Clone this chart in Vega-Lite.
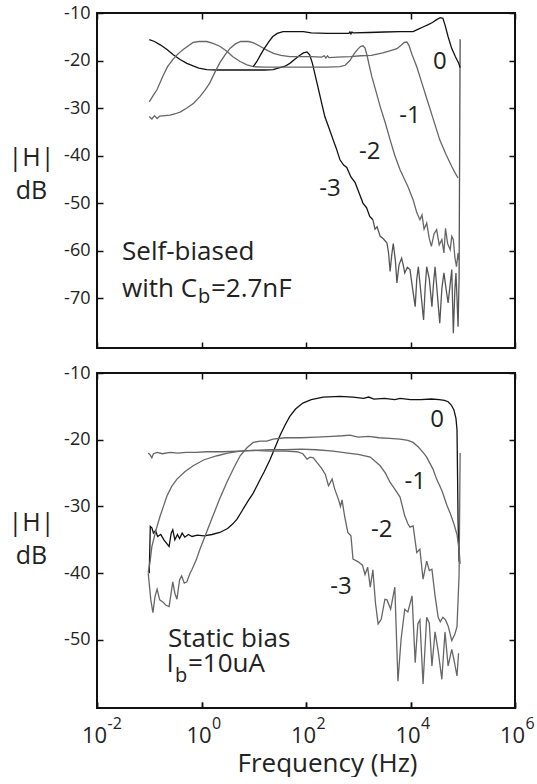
{
  "$schema": "https://vega.github.io/schema/vega-lite/v6.json",
  "autosize": {"type": "pad"},
  "padding": {"left": 7, "top": 3, "right": 0, "bottom": 0},
  "spacing": 25,
  "bounds": "flush",
  "config": {
    "font": "Open Sans",
    "view": {"stroke": "#111", "strokeWidth": 2},
    "axis": {"domain": false, "grid": false, "tickColor": "#111", "tickWidth": 1.5, "tickSize": -6, "labelColor": "#222", "titleColor": "#222", "titleFontWeight": "normal", "labelFont": "Open Sans", "titleFont": "Open Sans", "labelFlush": false, "labelOverlap": false, "labelBound": false},
    "text": {"color": "#222", "font": "Open Sans"}
  },
  "datasets": {
    "curves": [
      {"panel":"top","curve":"-3","logf":-1.0,"dB":-15.6},{"panel":"top","curve":"-3","logf":-0.9,"dB":-16.0},{"panel":"top","curve":"-3","logf":-0.79,"dB":-16.7},{"panel":"top","curve":"-3","logf":-0.66,"dB":-17.7},{"panel":"top","curve":"-3","logf":-0.54,"dB":-18.8},{"panel":"top","curve":"-3","logf":-0.41,"dB":-19.8},{"panel":"top","curve":"-3","logf":-0.28,"dB":-20.6},{"panel":"top","curve":"-3","logf":-0.15,"dB":-21.2},{"panel":"top","curve":"-3","logf":-0.05,"dB":-21.6},{"panel":"top","curve":"-3","logf":0.1,"dB":-21.9},{"panel":"top","curve":"-3","logf":0.3,"dB":-22.0},{"panel":"top","curve":"-3","logf":0.6,"dB":-22.0},{"panel":"top","curve":"-3","logf":0.9,"dB":-22.0},{"panel":"top","curve":"-3","logf":1.2,"dB":-22.0},{"panel":"top","curve":"-3","logf":1.37,"dB":-21.9},{"panel":"top","curve":"-3","logf":1.5,"dB":-21.5},{"panel":"top","curve":"-3","logf":1.6,"dB":-21.2},{"panel":"top","curve":"-3","logf":1.69,"dB":-20.6},{"panel":"top","curve":"-3","logf":1.78,"dB":-19.8},{"panel":"top","curve":"-3","logf":1.87,"dB":-19.0},{"panel":"top","curve":"-3","logf":1.95,"dB":-18.4},{"panel":"top","curve":"-3","logf":2.02,"dB":-18.2},{"panel":"top","curve":"-3","logf":2.07,"dB":-18.8},{"panel":"top","curve":"-3","logf":2.12,"dB":-20.5},{"panel":"top","curve":"-3","logf":2.21,"dB":-24.7},{"panel":"top","curve":"-3","logf":2.29,"dB":-28.5},{"panel":"top","curve":"-3","logf":2.36,"dB":-31.8},{"panel":"top","curve":"-3","logf":2.45,"dB":-34.5},{"panel":"top","curve":"-3","logf":2.52,"dB":-36.7},{"panel":"top","curve":"-3","logf":2.58,"dB":-38.5},{"panel":"top","curve":"-3","logf":2.65,"dB":-40.9},{"panel":"top","curve":"-3","logf":2.72,"dB":-42.0},{"panel":"top","curve":"-3","logf":2.78,"dB":-42.5},{"panel":"top","curve":"-3","logf":2.86,"dB":-44.5},{"panel":"top","curve":"-3","logf":2.94,"dB":-45.7},{"panel":"top","curve":"-3","logf":3.02,"dB":-48.0},{"panel":"top","curve":"-3","logf":3.09,"dB":-50.0},{"panel":"top","curve":"-3","logf":3.16,"dB":-51.0},{"panel":"top","curve":"-3","logf":3.22,"dB":-52.8},{"panel":"top","curve":"-3","logf":3.28,"dB":-53.5},
      {"panel":"top","curve":"-3 floor","logf":3.28,"dB":-53.5},{"panel":"top","curve":"-3 floor","logf":3.32,"dB":-55.5},{"panel":"top","curve":"-3 floor","logf":3.36,"dB":-55.0},{"panel":"top","curve":"-3 floor","logf":3.42,"dB":-57.0},{"panel":"top","curve":"-3 floor","logf":3.48,"dB":-57.5},{"panel":"top","curve":"-3 floor","logf":3.55,"dB":-58.4},{"panel":"top","curve":"-3 floor","logf":3.58,"dB":-60.5},{"panel":"top","curve":"-3 floor","logf":3.61,"dB":-64.4},{"panel":"top","curve":"-3 floor","logf":3.64,"dB":-61.0},{"panel":"top","curve":"-3 floor","logf":3.67,"dB":-58.5},{"panel":"top","curve":"-3 floor","logf":3.71,"dB":-62.0},{"panel":"top","curve":"-3 floor","logf":3.74,"dB":-66.8},{"panel":"top","curve":"-3 floor","logf":3.78,"dB":-63.0},{"panel":"top","curve":"-3 floor","logf":3.83,"dB":-61.6},{"panel":"top","curve":"-3 floor","logf":3.86,"dB":-63.0},{"panel":"top","curve":"-3 floor","logf":3.89,"dB":-64.7},{"panel":"top","curve":"-3 floor","logf":3.94,"dB":-63.5},{"panel":"top","curve":"-3 floor","logf":3.99,"dB":-64.0},{"panel":"top","curve":"-3 floor","logf":4.04,"dB":-68.0},{"panel":"top","curve":"-3 floor","logf":4.09,"dB":-71.8},{"panel":"top","curve":"-3 floor","logf":4.12,"dB":-66.0},{"panel":"top","curve":"-3 floor","logf":4.15,"dB":-63.4},{"panel":"top","curve":"-3 floor","logf":4.2,"dB":-69.0},{"panel":"top","curve":"-3 floor","logf":4.25,"dB":-74.6},{"panel":"top","curve":"-3 floor","logf":4.28,"dB":-68.0},{"panel":"top","curve":"-3 floor","logf":4.31,"dB":-63.4},{"panel":"top","curve":"-3 floor","logf":4.36,"dB":-66.0},{"panel":"top","curve":"-3 floor","logf":4.41,"dB":-71.8},{"panel":"top","curve":"-3 floor","logf":4.44,"dB":-67.0},{"panel":"top","curve":"-3 floor","logf":4.47,"dB":-63.4},{"panel":"top","curve":"-3 floor","logf":4.52,"dB":-70.0},{"panel":"top","curve":"-3 floor","logf":4.56,"dB":-75.3},{"panel":"top","curve":"-3 floor","logf":4.6,"dB":-68.0},{"panel":"top","curve":"-3 floor","logf":4.64,"dB":-64.7},{"panel":"top","curve":"-3 floor","logf":4.68,"dB":-68.0},{"panel":"top","curve":"-3 floor","logf":4.72,"dB":-71.0},{"panel":"top","curve":"-3 floor","logf":4.76,"dB":-67.0},{"panel":"top","curve":"-3 floor","logf":4.79,"dB":-64.0},{"panel":"top","curve":"-3 floor","logf":4.82,"dB":-77.4},{"panel":"top","curve":"-3 floor","logf":4.85,"dB":-68.0},{"panel":"top","curve":"-3 floor","logf":4.87,"dB":-64.7},{"panel":"top","curve":"-3 floor","logf":4.89,"dB":-70.0},{"panel":"top","curve":"-3 floor","logf":4.91,"dB":-76.0},{"panel":"top","curve":"-3 floor","logf":4.93,"dB":-66.0},{"panel":"top","curve":"-3 floor","logf":4.95,"dB":-15.5},
      {"panel":"top","curve":"-2","logf":-1.0,"dB":-28.7},{"panel":"top","curve":"-2","logf":-0.92,"dB":-27.3},{"panel":"top","curve":"-2","logf":-0.85,"dB":-26.1},{"panel":"top","curve":"-2","logf":-0.74,"dB":-23.3},{"panel":"top","curve":"-2","logf":-0.65,"dB":-21.3},{"panel":"top","curve":"-2","logf":-0.55,"dB":-19.8},{"panel":"top","curve":"-2","logf":-0.45,"dB":-18.6},{"panel":"top","curve":"-2","logf":-0.35,"dB":-17.7},{"panel":"top","curve":"-2","logf":-0.25,"dB":-16.9},{"panel":"top","curve":"-2","logf":-0.16,"dB":-16.2},{"panel":"top","curve":"-2","logf":-0.05,"dB":-16.0},{"panel":"top","curve":"-2","logf":0.1,"dB":-16.0},{"panel":"top","curve":"-2","logf":0.22,"dB":-16.4},{"panel":"top","curve":"-2","logf":0.35,"dB":-17.0},{"panel":"top","curve":"-2","logf":0.48,"dB":-18.0},{"panel":"top","curve":"-2","logf":0.6,"dB":-19.2},{"panel":"top","curve":"-2","logf":0.74,"dB":-20.2},{"panel":"top","curve":"-2","logf":0.87,"dB":-20.9},{"panel":"top","curve":"-2","logf":0.99,"dB":-21.3},{"panel":"top","curve":"-2","logf":1.2,"dB":-21.4},{"panel":"top","curve":"-2","logf":1.5,"dB":-21.4},{"panel":"top","curve":"-2","logf":1.8,"dB":-21.4},{"panel":"top","curve":"-2","logf":2.1,"dB":-21.4},{"panel":"top","curve":"-2","logf":2.4,"dB":-21.4},{"panel":"top","curve":"-2","logf":2.65,"dB":-21.3},{"panel":"top","curve":"-2","logf":2.75,"dB":-21.0},{"panel":"top","curve":"-2","logf":2.84,"dB":-20.0},{"panel":"top","curve":"-2","logf":2.92,"dB":-18.6},{"panel":"top","curve":"-2","logf":3.0,"dB":-17.5},{"panel":"top","curve":"-2","logf":3.05,"dB":-17.0},{"panel":"top","curve":"-2","logf":3.09,"dB":-16.9},{"panel":"top","curve":"-2","logf":3.13,"dB":-17.4},{"panel":"top","curve":"-2","logf":3.17,"dB":-19.0},{"panel":"top","curve":"-2","logf":3.21,"dB":-21.0},{"panel":"top","curve":"-2","logf":3.26,"dB":-23.4},{"panel":"top","curve":"-2","logf":3.34,"dB":-26.5},{"panel":"top","curve":"-2","logf":3.42,"dB":-29.7},{"panel":"top","curve":"-2","logf":3.52,"dB":-33.2},{"panel":"top","curve":"-2","logf":3.61,"dB":-36.7},{"panel":"top","curve":"-2","logf":3.7,"dB":-40.0},{"panel":"top","curve":"-2","logf":3.8,"dB":-43.0},{"panel":"top","curve":"-2","logf":3.86,"dB":-44.4},{"panel":"top","curve":"-2","logf":3.95,"dB":-46.5},{"panel":"top","curve":"-2","logf":4.05,"dB":-49.3},{"panel":"top","curve":"-2","logf":4.12,"dB":-52.0},{"panel":"top","curve":"-2","logf":4.18,"dB":-53.5},{"panel":"top","curve":"-2","logf":4.22,"dB":-52.5},{"panel":"top","curve":"-2","logf":4.26,"dB":-55.5},{"panel":"top","curve":"-2","logf":4.31,"dB":-54.2},{"panel":"top","curve":"-2","logf":4.36,"dB":-57.5},{"panel":"top","curve":"-2","logf":4.4,"dB":-59.1},{"panel":"top","curve":"-2","logf":4.45,"dB":-56.5},{"panel":"top","curve":"-2","logf":4.5,"dB":-55.6},{"panel":"top","curve":"-2","logf":4.55,"dB":-58.8},{"panel":"top","curve":"-2","logf":4.6,"dB":-57.7},{"panel":"top","curve":"-2","logf":4.64,"dB":-60.5},{"panel":"top","curve":"-2","logf":4.67,"dB":-55.3},{"panel":"top","curve":"-2","logf":4.71,"dB":-58.5},{"panel":"top","curve":"-2","logf":4.76,"dB":-59.8},{"panel":"top","curve":"-2","logf":4.79,"dB":-57.0},{"panel":"top","curve":"-2","logf":4.82,"dB":-57.7},{"panel":"top","curve":"-2","logf":4.85,"dB":-61.5},{"panel":"top","curve":"-2","logf":4.88,"dB":-63.4},{"panel":"top","curve":"-2","logf":4.91,"dB":-60.5},{"panel":"top","curve":"-2","logf":4.93,"dB":-62.0},
      {"panel":"top","curve":"-1","logf":-1.0,"dB":-31.8},{"panel":"top","curve":"-1","logf":-0.95,"dB":-32.3},{"panel":"top","curve":"-1","logf":-0.9,"dB":-31.6},{"panel":"top","curve":"-1","logf":-0.85,"dB":-32.2},{"panel":"top","curve":"-1","logf":-0.8,"dB":-31.7},{"panel":"top","curve":"-1","logf":-0.7,"dB":-31.6},{"panel":"top","curve":"-1","logf":-0.6,"dB":-31.5},{"panel":"top","curve":"-1","logf":-0.5,"dB":-31.2},{"panel":"top","curve":"-1","logf":-0.4,"dB":-30.8},{"panel":"top","curve":"-1","logf":-0.28,"dB":-30.0},{"panel":"top","curve":"-1","logf":-0.15,"dB":-29.0},{"panel":"top","curve":"-1","logf":-0.03,"dB":-27.6},{"panel":"top","curve":"-1","logf":0.07,"dB":-26.2},{"panel":"top","curve":"-1","logf":0.16,"dB":-24.7},{"panel":"top","curve":"-1","logf":0.25,"dB":-22.6},{"panel":"top","curve":"-1","logf":0.35,"dB":-20.5},{"panel":"top","curve":"-1","logf":0.45,"dB":-18.8},{"panel":"top","curve":"-1","logf":0.55,"dB":-17.4},{"panel":"top","curve":"-1","logf":0.65,"dB":-16.5},{"panel":"top","curve":"-1","logf":0.75,"dB":-16.0},{"panel":"top","curve":"-1","logf":0.9,"dB":-16.0},{"panel":"top","curve":"-1","logf":1.0,"dB":-16.3},{"panel":"top","curve":"-1","logf":1.12,"dB":-17.0},{"panel":"top","curve":"-1","logf":1.25,"dB":-17.8},{"panel":"top","curve":"-1","logf":1.38,"dB":-18.5},{"panel":"top","curve":"-1","logf":1.52,"dB":-18.9},{"panel":"top","curve":"-1","logf":1.69,"dB":-19.2},{"panel":"top","curve":"-1","logf":1.9,"dB":-19.2},{"panel":"top","curve":"-1","logf":2.1,"dB":-19.2},{"panel":"top","curve":"-1","logf":2.3,"dB":-19.3},{"panel":"top","curve":"-1","logf":2.35,"dB":-19.0},{"panel":"top","curve":"-1","logf":2.38,"dB":-19.5},{"panel":"top","curve":"-1","logf":2.41,"dB":-19.0},{"panel":"top","curve":"-1","logf":2.44,"dB":-19.4},{"panel":"top","curve":"-1","logf":2.6,"dB":-19.3},{"panel":"top","curve":"-1","logf":2.85,"dB":-19.2},{"panel":"top","curve":"-1","logf":3.05,"dB":-19.0},{"panel":"top","curve":"-1","logf":3.25,"dB":-18.9},{"panel":"top","curve":"-1","logf":3.47,"dB":-18.4},{"panel":"top","curve":"-1","logf":3.62,"dB":-17.9},{"panel":"top","curve":"-1","logf":3.74,"dB":-17.5},{"panel":"top","curve":"-1","logf":3.82,"dB":-16.8},{"panel":"top","curve":"-1","logf":3.88,"dB":-16.2},{"panel":"top","curve":"-1","logf":3.93,"dB":-16.1},{"panel":"top","curve":"-1","logf":3.97,"dB":-16.8},{"panel":"top","curve":"-1","logf":4.03,"dB":-18.8},{"panel":"top","curve":"-1","logf":4.12,"dB":-21.3},{"panel":"top","curve":"-1","logf":4.22,"dB":-24.8},{"panel":"top","curve":"-1","logf":4.32,"dB":-28.3},{"panel":"top","curve":"-1","logf":4.44,"dB":-32.5},{"panel":"top","curve":"-1","logf":4.56,"dB":-36.7},{"panel":"top","curve":"-1","logf":4.68,"dB":-39.8},{"panel":"top","curve":"-1","logf":4.79,"dB":-42.3},{"panel":"top","curve":"-1","logf":4.86,"dB":-43.8},{"panel":"top","curve":"-1","logf":4.91,"dB":-44.7},
      {"panel":"top","curve":"0","logf":0.99,"dB":-21.3},{"panel":"top","curve":"0","logf":1.06,"dB":-20.2},{"panel":"top","curve":"0","logf":1.13,"dB":-18.8},{"panel":"top","curve":"0","logf":1.2,"dB":-17.5},{"panel":"top","curve":"0","logf":1.28,"dB":-16.2},{"panel":"top","curve":"0","logf":1.36,"dB":-15.0},{"panel":"top","curve":"0","logf":1.45,"dB":-14.3},{"panel":"top","curve":"0","logf":1.56,"dB":-13.9},{"panel":"top","curve":"0","logf":1.75,"dB":-13.9},{"panel":"top","curve":"0","logf":1.95,"dB":-13.9},{"panel":"top","curve":"0","logf":2.1,"dB":-14.2},{"panel":"top","curve":"0","logf":2.4,"dB":-14.3},{"panel":"top","curve":"0","logf":2.7,"dB":-14.3},{"panel":"top","curve":"0","logf":2.82,"dB":-14.3},{"panel":"top","curve":"0","logf":2.84,"dB":-14.0},{"panel":"top","curve":"0","logf":2.86,"dB":-14.4},{"panel":"top","curve":"0","logf":2.88,"dB":-14.0},{"panel":"top","curve":"0","logf":2.9,"dB":-14.2},{"panel":"top","curve":"0","logf":3.2,"dB":-14.1},{"panel":"top","curve":"0","logf":3.5,"dB":-14.0},{"panel":"top","curve":"0","logf":3.8,"dB":-13.9},{"panel":"top","curve":"0","logf":4.05,"dB":-13.9},{"panel":"top","curve":"0","logf":4.15,"dB":-13.4},{"panel":"top","curve":"0","logf":4.25,"dB":-12.9},{"panel":"top","curve":"0","logf":4.33,"dB":-12.5},{"panel":"top","curve":"0","logf":4.42,"dB":-12.0},{"panel":"top","curve":"0","logf":4.5,"dB":-11.4},{"panel":"top","curve":"0","logf":4.57,"dB":-11.0},{"panel":"top","curve":"0","logf":4.62,"dB":-11.1},{"panel":"top","curve":"0","logf":4.66,"dB":-12.5},{"panel":"top","curve":"0","logf":4.72,"dB":-15.0},{"panel":"top","curve":"0","logf":4.79,"dB":-17.5},{"panel":"top","curve":"0","logf":4.86,"dB":-19.2},{"panel":"top","curve":"0","logf":4.92,"dB":-20.5},{"panel":"top","curve":"0","logf":4.95,"dB":-21.5},
      {"panel":"bottom","curve":"0","logf":-1.0,"dB":-40.0},{"panel":"bottom","curve":"0","logf":-0.98,"dB":-33.0},{"panel":"bottom","curve":"0","logf":-0.95,"dB":-33.2},{"panel":"bottom","curve":"0","logf":-0.92,"dB":-34.0},{"panel":"bottom","curve":"0","logf":-0.88,"dB":-33.6},{"panel":"bottom","curve":"0","logf":-0.84,"dB":-34.5},{"panel":"bottom","curve":"0","logf":-0.78,"dB":-34.2},{"panel":"bottom","curve":"0","logf":-0.72,"dB":-35.0},{"panel":"bottom","curve":"0","logf":-0.66,"dB":-35.6},{"panel":"bottom","curve":"0","logf":-0.62,"dB":-36.0},{"panel":"bottom","curve":"0","logf":-0.58,"dB":-34.0},{"panel":"bottom","curve":"0","logf":-0.55,"dB":-33.5},{"panel":"bottom","curve":"0","logf":-0.51,"dB":-35.0},{"panel":"bottom","curve":"0","logf":-0.46,"dB":-34.2},{"panel":"bottom","curve":"0","logf":-0.42,"dB":-34.8},{"panel":"bottom","curve":"0","logf":-0.37,"dB":-34.0},{"panel":"bottom","curve":"0","logf":-0.32,"dB":-34.6},{"panel":"bottom","curve":"0","logf":-0.25,"dB":-34.2},{"panel":"bottom","curve":"0","logf":-0.18,"dB":-34.5},{"panel":"bottom","curve":"0","logf":-0.08,"dB":-34.3},{"panel":"bottom","curve":"0","logf":0.05,"dB":-34.4},{"panel":"bottom","curve":"0","logf":0.2,"dB":-34.2},{"panel":"bottom","curve":"0","logf":0.35,"dB":-33.9},{"panel":"bottom","curve":"0","logf":0.5,"dB":-33.3},{"panel":"bottom","curve":"0","logf":0.6,"dB":-32.6},{"panel":"bottom","curve":"0","logf":0.68,"dB":-31.9},{"panel":"bottom","curve":"0","logf":0.78,"dB":-30.6},{"panel":"bottom","curve":"0","logf":0.88,"dB":-29.3},{"panel":"bottom","curve":"0","logf":0.99,"dB":-28.0},{"panel":"bottom","curve":"0","logf":1.1,"dB":-26.3},{"panel":"bottom","curve":"0","logf":1.2,"dB":-24.8},{"panel":"bottom","curve":"0","logf":1.31,"dB":-23.0},{"panel":"bottom","curve":"0","logf":1.4,"dB":-21.3},{"panel":"bottom","curve":"0","logf":1.5,"dB":-19.4},{"panel":"bottom","curve":"0","logf":1.6,"dB":-17.8},{"panel":"bottom","curve":"0","logf":1.69,"dB":-16.5},{"panel":"bottom","curve":"0","logf":1.8,"dB":-15.4},{"panel":"bottom","curve":"0","logf":1.94,"dB":-14.5},{"panel":"bottom","curve":"0","logf":2.1,"dB":-14.0},{"panel":"bottom","curve":"0","logf":2.33,"dB":-13.6},{"panel":"bottom","curve":"0","logf":2.65,"dB":-13.5},{"panel":"bottom","curve":"0","logf":2.9,"dB":-13.6},{"panel":"bottom","curve":"0","logf":3.1,"dB":-13.8},{"panel":"bottom","curve":"0","logf":3.2,"dB":-13.6},{"panel":"bottom","curve":"0","logf":3.3,"dB":-13.9},{"panel":"bottom","curve":"0","logf":3.5,"dB":-13.8},{"panel":"bottom","curve":"0","logf":3.7,"dB":-14.0},{"panel":"bottom","curve":"0","logf":3.8,"dB":-13.8},{"panel":"bottom","curve":"0","logf":4.0,"dB":-14.0},{"panel":"bottom","curve":"0","logf":4.2,"dB":-14.0},{"panel":"bottom","curve":"0","logf":4.4,"dB":-13.9},{"panel":"bottom","curve":"0","logf":4.55,"dB":-14.0},{"panel":"bottom","curve":"0","logf":4.65,"dB":-14.1},{"panel":"bottom","curve":"0","logf":4.72,"dB":-14.3},{"panel":"bottom","curve":"0","logf":4.78,"dB":-14.8},{"panel":"bottom","curve":"0","logf":4.83,"dB":-15.5},{"panel":"bottom","curve":"0","logf":4.87,"dB":-16.8},{"panel":"bottom","curve":"0","logf":4.89,"dB":-18.5},{"panel":"bottom","curve":"0","logf":4.9,"dB":-25.0},{"panel":"bottom","curve":"0","logf":4.91,"dB":-32.0},{"panel":"bottom","curve":"0","logf":4.93,"dB":-38.3},
      {"panel":"bottom","curve":"-1","logf":-1.02,"dB":-40.0},{"panel":"bottom","curve":"-1","logf":-0.97,"dB":-44.0},{"panel":"bottom","curve":"-1","logf":-0.93,"dB":-45.9},{"panel":"bottom","curve":"-1","logf":-0.89,"dB":-43.5},{"panel":"bottom","curve":"-1","logf":-0.85,"dB":-42.4},{"panel":"bottom","curve":"-1","logf":-0.8,"dB":-44.0},{"panel":"bottom","curve":"-1","logf":-0.74,"dB":-44.3},{"panel":"bottom","curve":"-1","logf":-0.68,"dB":-44.8},{"panel":"bottom","curve":"-1","logf":-0.62,"dB":-45.0},{"panel":"bottom","curve":"-1","logf":-0.55,"dB":-41.3},{"panel":"bottom","curve":"-1","logf":-0.51,"dB":-43.0},{"panel":"bottom","curve":"-1","logf":-0.47,"dB":-43.9},{"panel":"bottom","curve":"-1","logf":-0.42,"dB":-41.0},{"panel":"bottom","curve":"-1","logf":-0.38,"dB":-40.4},{"panel":"bottom","curve":"-1","logf":-0.33,"dB":-41.5},{"panel":"bottom","curve":"-1","logf":-0.28,"dB":-41.3},{"panel":"bottom","curve":"-1","logf":-0.22,"dB":-40.0},{"panel":"bottom","curve":"-1","logf":-0.18,"dB":-39.4},{"panel":"bottom","curve":"-1","logf":-0.1,"dB":-38.0},{"panel":"bottom","curve":"-1","logf":-0.03,"dB":-36.4},{"panel":"bottom","curve":"-1","logf":0.1,"dB":-33.8},{"panel":"bottom","curve":"-1","logf":0.22,"dB":-31.4},{"panel":"bottom","curve":"-1","logf":0.35,"dB":-28.8},{"panel":"bottom","curve":"-1","logf":0.49,"dB":-26.3},{"panel":"bottom","curve":"-1","logf":0.62,"dB":-24.2},{"panel":"bottom","curve":"-1","logf":0.74,"dB":-22.4},{"panel":"bottom","curve":"-1","logf":0.87,"dB":-21.2},{"panel":"bottom","curve":"-1","logf":0.99,"dB":-20.4},{"panel":"bottom","curve":"-1","logf":1.12,"dB":-20.2},{"panel":"bottom","curve":"-1","logf":1.25,"dB":-20.2},{"panel":"bottom","curve":"-1","logf":1.37,"dB":-19.9},{"panel":"bottom","curve":"-1","logf":1.6,"dB":-19.7},{"panel":"bottom","curve":"-1","logf":1.9,"dB":-19.7},{"panel":"bottom","curve":"-1","logf":2.2,"dB":-19.6},{"panel":"bottom","curve":"-1","logf":2.5,"dB":-19.5},{"panel":"bottom","curve":"-1","logf":2.7,"dB":-19.4},{"panel":"bottom","curve":"-1","logf":2.84,"dB":-19.3},{"panel":"bottom","curve":"-1","logf":3.0,"dB":-19.6},{"panel":"bottom","curve":"-1","logf":3.2,"dB":-19.5},{"panel":"bottom","curve":"-1","logf":3.4,"dB":-19.7},{"panel":"bottom","curve":"-1","logf":3.6,"dB":-19.8},{"panel":"bottom","curve":"-1","logf":3.8,"dB":-19.9},{"panel":"bottom","curve":"-1","logf":3.95,"dB":-20.1},{"panel":"bottom","curve":"-1","logf":4.05,"dB":-20.4},{"panel":"bottom","curve":"-1","logf":4.15,"dB":-21.1},{"panel":"bottom","curve":"-1","logf":4.24,"dB":-21.9},{"panel":"bottom","curve":"-1","logf":4.31,"dB":-22.6},{"panel":"bottom","curve":"-1","logf":4.43,"dB":-24.4},{"panel":"bottom","curve":"-1","logf":4.5,"dB":-25.9},{"panel":"bottom","curve":"-1","logf":4.6,"dB":-27.6},{"panel":"bottom","curve":"-1","logf":4.7,"dB":-29.9},{"panel":"bottom","curve":"-1","logf":4.76,"dB":-31.0},{"panel":"bottom","curve":"-1","logf":4.83,"dB":-32.6},{"panel":"bottom","curve":"-1","logf":4.89,"dB":-34.2},{"panel":"bottom","curve":"-1","logf":4.93,"dB":-36.5},{"panel":"bottom","curve":"-1","logf":4.95,"dB":-38.6},
      {"panel":"bottom","curve":"-2","logf":-1.02,"dB":-39.9},{"panel":"bottom","curve":"-2","logf":-0.98,"dB":-38.0},{"panel":"bottom","curve":"-2","logf":-0.95,"dB":-36.0},{"panel":"bottom","curve":"-2","logf":-0.87,"dB":-33.5},{"panel":"bottom","curve":"-2","logf":-0.79,"dB":-31.4},{"panel":"bottom","curve":"-2","logf":-0.72,"dB":-29.8},{"panel":"bottom","curve":"-2","logf":-0.66,"dB":-28.4},{"panel":"bottom","curve":"-2","logf":-0.57,"dB":-27.0},{"panel":"bottom","curve":"-2","logf":-0.47,"dB":-25.9},{"panel":"bottom","curve":"-2","logf":-0.32,"dB":-24.8},{"panel":"bottom","curve":"-2","logf":-0.16,"dB":-23.9},{"panel":"bottom","curve":"-2","logf":0.05,"dB":-23.0},{"panel":"bottom","curve":"-2","logf":0.3,"dB":-22.4},{"panel":"bottom","curve":"-2","logf":0.5,"dB":-22.0},{"panel":"bottom","curve":"-2","logf":0.74,"dB":-21.7},{"panel":"bottom","curve":"-2","logf":1.0,"dB":-21.6},{"panel":"bottom","curve":"-2","logf":1.3,"dB":-21.5},{"panel":"bottom","curve":"-2","logf":1.6,"dB":-21.5},{"panel":"bottom","curve":"-2","logf":1.9,"dB":-21.4},{"panel":"bottom","curve":"-2","logf":2.2,"dB":-21.5},{"panel":"bottom","curve":"-2","logf":2.52,"dB":-21.7},{"panel":"bottom","curve":"-2","logf":2.8,"dB":-22.0},{"panel":"bottom","curve":"-2","logf":3.0,"dB":-22.2},{"panel":"bottom","curve":"-2","logf":3.23,"dB":-22.6},{"panel":"bottom","curve":"-2","logf":3.42,"dB":-23.9},{"panel":"bottom","curve":"-2","logf":3.52,"dB":-25.0},{"panel":"bottom","curve":"-2","logf":3.61,"dB":-26.4},{"panel":"bottom","curve":"-2","logf":3.7,"dB":-27.4},{"panel":"bottom","curve":"-2","logf":3.8,"dB":-28.6},{"panel":"bottom","curve":"-2","logf":3.89,"dB":-31.4},{"panel":"bottom","curve":"-2","logf":3.95,"dB":-32.6},{"panel":"bottom","curve":"-2","logf":3.99,"dB":-33.1},{"panel":"bottom","curve":"-2","logf":4.05,"dB":-32.9},{"panel":"bottom","curve":"-2","logf":4.12,"dB":-36.9},{"panel":"bottom","curve":"-2","logf":4.18,"dB":-36.4},{"panel":"bottom","curve":"-2","logf":4.24,"dB":-40.9},{"panel":"bottom","curve":"-2","logf":4.31,"dB":-38.2},{"panel":"bottom","curve":"-2","logf":4.36,"dB":-39.6},{"panel":"bottom","curve":"-2","logf":4.41,"dB":-39.4},{"panel":"bottom","curve":"-2","logf":4.47,"dB":-43.4},{"panel":"bottom","curve":"-2","logf":4.53,"dB":-46.6},{"panel":"bottom","curve":"-2","logf":4.57,"dB":-47.3},{"panel":"bottom","curve":"-2","logf":4.62,"dB":-46.6},{"panel":"bottom","curve":"-2","logf":4.67,"dB":-47.0},{"panel":"bottom","curve":"-2","logf":4.72,"dB":-47.9},{"panel":"bottom","curve":"-2","logf":4.79,"dB":-50.1},{"panel":"bottom","curve":"-2","logf":4.85,"dB":-49.1},{"panel":"bottom","curve":"-2","logf":4.89,"dB":-48.0},{"panel":"bottom","curve":"-2","logf":4.93,"dB":-40.2},{"panel":"bottom","curve":"-2","logf":4.95,"dB":-22.0},
      {"panel":"bottom","curve":"-3","logf":-1.02,"dB":-22.0},{"panel":"bottom","curve":"-3","logf":-0.98,"dB":-22.3},{"panel":"bottom","curve":"-3","logf":-0.95,"dB":-22.7},{"panel":"bottom","curve":"-3","logf":-0.92,"dB":-22.1},{"panel":"bottom","curve":"-3","logf":-0.85,"dB":-21.9},{"panel":"bottom","curve":"-3","logf":-0.75,"dB":-22.1},{"panel":"bottom","curve":"-3","logf":-0.6,"dB":-21.9},{"panel":"bottom","curve":"-3","logf":-0.45,"dB":-22.0},{"panel":"bottom","curve":"-3","logf":-0.3,"dB":-21.9},{"panel":"bottom","curve":"-3","logf":-0.1,"dB":-21.9},{"panel":"bottom","curve":"-3","logf":0.1,"dB":-21.8},{"panel":"bottom","curve":"-3","logf":0.4,"dB":-21.8},{"panel":"bottom","curve":"-3","logf":0.7,"dB":-21.7},{"panel":"bottom","curve":"-3","logf":1.0,"dB":-21.6},{"panel":"bottom","curve":"-3","logf":1.3,"dB":-21.7},{"panel":"bottom","curve":"-3","logf":1.6,"dB":-21.7},{"panel":"bottom","curve":"-3","logf":1.83,"dB":-21.8},{"panel":"bottom","curve":"-3","logf":1.94,"dB":-22.1},{"panel":"bottom","curve":"-3","logf":2.02,"dB":-22.9},{"panel":"bottom","curve":"-3","logf":2.08,"dB":-22.6},{"panel":"bottom","curve":"-3","logf":2.14,"dB":-22.7},{"panel":"bottom","curve":"-3","logf":2.22,"dB":-23.5},{"panel":"bottom","curve":"-3","logf":2.3,"dB":-24.3},{"panel":"bottom","curve":"-3","logf":2.37,"dB":-25.2},{"panel":"bottom","curve":"-3","logf":2.43,"dB":-26.9},{"panel":"bottom","curve":"-3","logf":2.5,"dB":-25.9},{"panel":"bottom","curve":"-3","logf":2.55,"dB":-27.4},{"panel":"bottom","curve":"-3","logf":2.62,"dB":-28.9},{"panel":"bottom","curve":"-3","logf":2.66,"dB":-30.0},{"panel":"bottom","curve":"-3","logf":2.69,"dB":-29.0},{"panel":"bottom","curve":"-3","logf":2.74,"dB":-31.5},{"panel":"bottom","curve":"-3","logf":2.8,"dB":-33.9},{"panel":"bottom","curve":"-3","logf":2.86,"dB":-34.4},{"panel":"bottom","curve":"-3","logf":2.9,"dB":-37.9},{"panel":"bottom","curve":"-3","logf":3.0,"dB":-38.3},{"panel":"bottom","curve":"-3","logf":3.08,"dB":-38.8},{"panel":"bottom","curve":"-3","logf":3.13,"dB":-40.2},{"panel":"bottom","curve":"-3","logf":3.18,"dB":-39.1},{"panel":"bottom","curve":"-3","logf":3.23,"dB":-42.1},{"panel":"bottom","curve":"-3","logf":3.28,"dB":-39.5},{"panel":"bottom","curve":"-3","logf":3.33,"dB":-44.5},{"panel":"bottom","curve":"-3","logf":3.38,"dB":-47.6},{"panel":"bottom","curve":"-3","logf":3.44,"dB":-46.9},{"panel":"bottom","curve":"-3","logf":3.51,"dB":-43.9},{"panel":"bottom","curve":"-3","logf":3.55,"dB":-44.0},{"panel":"bottom","curve":"-3","logf":3.62,"dB":-45.4},{"panel":"bottom","curve":"-3","logf":3.7,"dB":-42.1},{"panel":"bottom","curve":"-3","logf":3.76,"dB":-56.2},{"panel":"bottom","curve":"-3","logf":3.82,"dB":-49.9},{"panel":"bottom","curve":"-3","logf":3.89,"dB":-45.4},{"panel":"bottom","curve":"-3","logf":3.95,"dB":-45.8},{"panel":"bottom","curve":"-3","logf":4.03,"dB":-43.4},{"panel":"bottom","curve":"-3","logf":4.09,"dB":-53.4},{"panel":"bottom","curve":"-3","logf":4.14,"dB":-47.6},{"panel":"bottom","curve":"-3","logf":4.18,"dB":-47.0},{"panel":"bottom","curve":"-3","logf":4.24,"dB":-56.6},{"panel":"bottom","curve":"-3","logf":4.31,"dB":-46.6},{"panel":"bottom","curve":"-3","logf":4.36,"dB":-47.5},{"panel":"bottom","curve":"-3","logf":4.41,"dB":-53.9},{"panel":"bottom","curve":"-3","logf":4.47,"dB":-48.8},{"panel":"bottom","curve":"-3","logf":4.53,"dB":-51.7},{"panel":"bottom","curve":"-3","logf":4.6,"dB":-55.9},{"panel":"bottom","curve":"-3","logf":4.66,"dB":-48.8},{"panel":"bottom","curve":"-3","logf":4.72,"dB":-53.9},{"panel":"bottom","curve":"-3","logf":4.79,"dB":-51.4},{"panel":"bottom","curve":"-3","logf":4.83,"dB":-52.9},{"panel":"bottom","curve":"-3","logf":4.89,"dB":-55.4},{"panel":"bottom","curve":"-3","logf":4.92,"dB":-52.0}
    ],
    "notes": [
      {"panel":"top","kind":"label","text":"0","logf":4.56,"dB":-20.3},
      {"panel":"top","kind":"label","text":"-1","logf":3.99,"dB":-31.6},
      {"panel":"top","kind":"label","text":"-2","logf":3.22,"dB":-39.2},
      {"panel":"top","kind":"label","text":"-3","logf":2.46,"dB":-47.0},
      {"panel":"top","kind":"start","text":"Self-biased","logf":-1.52,"dB":-60.2},
      {"panel":"top","kind":"start","text":"with C","logf":-1.52,"dB":-68.1},
      {"panel":"top","kind":"sub","text":"b","logf":0.05,"dB":-69.7},
      {"panel":"top","kind":"start","text":"=2.7nF","logf":0.18,"dB":-68.1},
      {"panel":"bottom","kind":"label","text":"0","logf":4.51,"dB":-17.0},
      {"panel":"bottom","kind":"label","text":"-1","logf":4.09,"dB":-26.3},
      {"panel":"bottom","kind":"label","text":"-2","logf":3.45,"dB":-33.5},
      {"panel":"bottom","kind":"label","text":"-3","logf":2.67,"dB":-42.1},
      {"panel":"bottom","kind":"start","text":"Static bias","logf":-0.64,"dB":-49.9},
      {"panel":"bottom","kind":"end","text":"I","logf":-0.53,"dB":-53.6},
      {"panel":"bottom","kind":"sub","text":"b","logf":-0.39,"dB":-55.4},
      {"panel":"bottom","kind":"start","text":"=10uA","logf":-0.26,"dB":-53.6}
    ]
  },
  "resolve": {"scale": {"color": "independent"}},
  "vconcat": [
    {
      "width": 418, "height": 335,
      "resolve": {"axis": {"x": "independent", "y": "independent"}},
      "layer": [
        {
          "data": {"name": "curves"},
          "transform": [{"filter": "datum.panel == 'top'"}],
          "mark": {"type": "line", "strokeWidth": 1.3, "clip": true},
          "encoding": {
            "x": {"field": "logf", "type": "quantitative", "scale": {"domain": [-2, 6], "nice": false, "zero": false}, "axis": {"orient": "bottom", "values": [-2, 0, 2, 4, 6], "labels": false, "title": null}},
            "y": {"field": "dB", "type": "quantitative", "scale": {"domain": [-80.5, -10], "nice": false, "zero": false}, "axis": {"orient": "left", "values": [-70, -60, -50, -40, -30, -20, -10], "labelExpr": "'' + datum.value", "labelFontSize": 18, "labelPadding": 13, "title": ["|H|", "dB"], "titleAngle": 0, "titleFontSize": 25, "titleAlign": "center", "titleBaseline": "middle", "titleX": -66, "titleY": 144, "titleLineHeight": 33}},
            "color": {"field": "curve", "type": "nominal", "scale": {"domain": ["0", "-1", "-2", "-3", "-3 floor"], "range": ["#111111", "#666666", "#666666", "#111111", "#555555"]}, "legend": null}
          }
        },
        {
          "data": {"name": "notes"},
          "transform": [{"filter": "datum.panel == 'top' && datum.kind == 'label'"}],
          "mark": {"type": "text", "fontSize": 24, "align": "center", "baseline": "middle"},
          "encoding": {
            "x": {"field": "logf", "type": "quantitative", "axis": {"orient": "top", "values": [-2, 0, 2, 4, 6], "labels": false, "title": null}},
            "y": {"field": "dB", "type": "quantitative", "axis": {"orient": "right", "values": [-70, -60, -50, -40, -30, -20, -10], "labels": false, "title": null}},
            "text": {"field": "text"}
          }
        },
        {
          "data": {"name": "notes"},
          "transform": [{"filter": "datum.panel == 'top' && datum.kind == 'start'"}],
          "mark": {"type": "text", "fontSize": 26, "align": "left", "baseline": "middle"},
          "encoding": {"x": {"field": "logf", "type": "quantitative", "axis": null}, "y": {"field": "dB", "type": "quantitative", "axis": null}, "text": {"field": "text"}}
        },
        {
          "data": {"name": "notes"},
          "transform": [{"filter": "datum.panel == 'top' && datum.kind == 'sub'"}],
          "mark": {"type": "text", "fontSize": 20, "align": "center", "baseline": "middle"},
          "encoding": {"x": {"field": "logf", "type": "quantitative", "axis": null}, "y": {"field": "dB", "type": "quantitative", "axis": null}, "text": {"field": "text"}}
        }
      ]
    },
    {
      "width": 418, "height": 335,
      "resolve": {"axis": {"x": "independent", "y": "independent"}},
      "layer": [
        {
          "data": {"name": "curves"},
          "transform": [{"filter": "datum.panel == 'bottom'"}],
          "mark": {"type": "line", "strokeWidth": 1.3, "clip": true},
          "encoding": {
            "x": {"field": "logf", "type": "quantitative", "scale": {"domain": [-2, 6], "nice": false, "zero": false}, "axis": {"orient": "bottom", "values": [-2, 0, 2, 4, 6], "labelExpr": "'10'", "labelFontSize": 22, "labelPadding": 23, "labelOffset": -3, "title": "Frequency (Hz)", "titleFontSize": 26, "titleAlign": "center", "titleBaseline": "alphabetic", "titleX": 230, "titleY": 63}},
            "y": {"field": "dB", "type": "quantitative", "scale": {"domain": [-60.2, -10], "nice": false, "zero": false}, "axis": {"orient": "left", "values": [-50, -40, -30, -20, -10], "labelExpr": "'' + datum.value", "labelFontSize": 18, "labelPadding": 13, "title": ["|H|", "dB"], "titleAngle": 0, "titleFontSize": 25, "titleAlign": "center", "titleBaseline": "middle", "titleX": -66, "titleY": 149, "titleLineHeight": 33}},
            "color": {"field": "curve", "type": "nominal", "scale": {"domain": ["0", "-1", "-2", "-3"], "range": ["#111111", "#666666", "#666666", "#666666"]}, "legend": null}
          }
        },
        {
          "data": {"name": "notes"},
          "transform": [{"filter": "datum.panel == 'bottom' && datum.kind == 'label'"}],
          "mark": {"type": "text", "fontSize": 24, "align": "center", "baseline": "middle"},
          "encoding": {
            "x": {"field": "logf", "type": "quantitative", "axis": {"orient": "top", "values": [-2, 0, 2, 4, 6], "labels": false, "title": null}},
            "y": {"field": "dB", "type": "quantitative", "axis": {"orient": "right", "values": [-50, -40, -30, -20, -10], "labels": false, "title": null}},
            "text": {"field": "text"}
          }
        },
        {
          "data": {"name": "notes"},
          "transform": [{"filter": "datum.panel == 'bottom' && datum.kind == 'start'"}],
          "mark": {"type": "text", "fontSize": 26, "align": "left", "baseline": "middle"},
          "encoding": {"x": {"field": "logf", "type": "quantitative", "axis": null}, "y": {"field": "dB", "type": "quantitative", "axis": null}, "text": {"field": "text"}}
        },
        {
          "data": {"name": "notes"},
          "transform": [{"filter": "datum.panel == 'bottom' && datum.kind == 'end'"}],
          "mark": {"type": "text", "fontSize": 26, "align": "right", "baseline": "middle"},
          "encoding": {"x": {"field": "logf", "type": "quantitative", "axis": null}, "y": {"field": "dB", "type": "quantitative", "axis": null}, "text": {"field": "text"}}
        },
        {
          "data": {"name": "notes"},
          "transform": [{"filter": "datum.panel == 'bottom' && datum.kind == 'sub'"}],
          "mark": {"type": "text", "fontSize": 20, "align": "center", "baseline": "middle"},
          "encoding": {
            "x": {"field": "logf", "type": "quantitative", "axis": {"orient": "bottom", "values": [-2, 0, 2, 4, 6], "labelExpr": "'' + datum.value", "labelFontSize": 16, "labelPadding": 13, "labelAlign": "left", "labelOffset": 10, "title": null}},
            "y": {"field": "dB", "type": "quantitative", "axis": null},
            "text": {"field": "text"}
          }
        }
      ]
    }
  ]
}
